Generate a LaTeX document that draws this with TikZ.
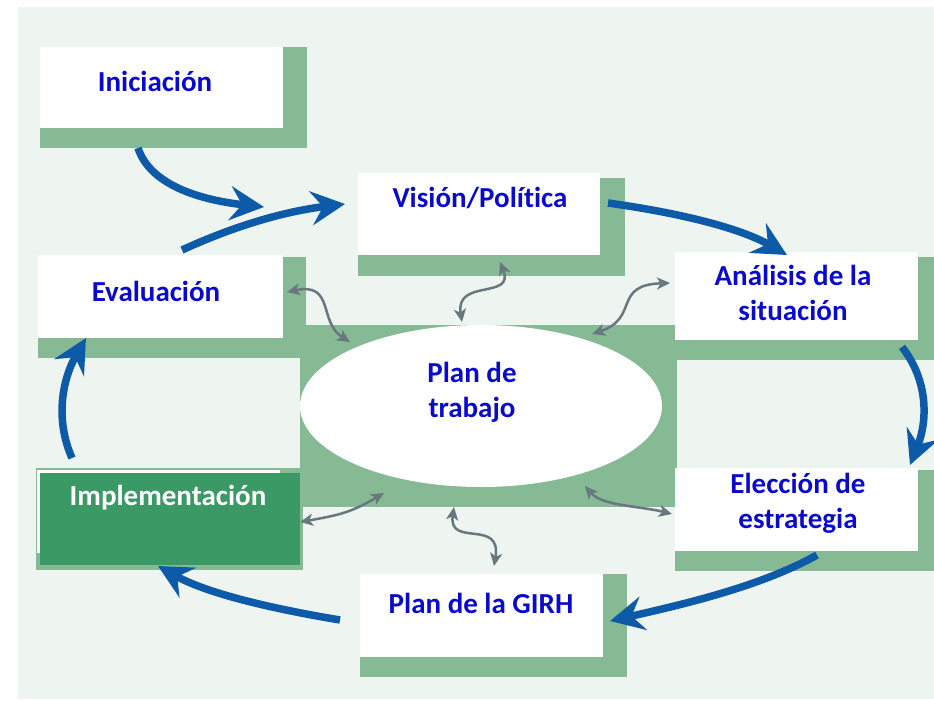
\documentclass[tikz,border=0pt]{standalone}
\usepackage{fontspec}
\setmainfont{Carlito}[Ligatures=NoCommon]
\usetikzlibrary{arrows.meta,shapes.geometric}
\definecolor{bgc}{HTML}{EEF4F0}
\definecolor{lgreen}{HTML}{86BA94}
\definecolor{dgreen}{HTML}{3B9966}
\definecolor{tblue}{HTML}{0A0ACD}
\definecolor{ablue}{HTML}{0D5BA8}
\definecolor{agrey}{HTML}{68787E}
\tikzset{
  shadowbox/.style={fill=lgreen},
  whitebox/.style={fill=white, draw=none, inner sep=0pt, anchor=north west},
  lbl/.style={text=tblue, font=\fontsize{29}{35}\selectfont\bfseries, align=center, inner sep=0pt},
  flow/.style={draw=ablue, line width=7.5pt, -{Stealth[length=34pt,width=34pt,inset=12pt]}},
  link/.style={draw=agrey, line width=2.5pt, {Stealth[length=13pt,width=12pt,inset=3.5pt]}-{Stealth[length=13pt,width=12pt,inset=3.5pt]}}
}
\begin{document}
\begin{tikzpicture}[x=1pt,y=-1pt]
\useasboundingbox (0,0) rectangle (934,701);
\fill[white] (0,0) rectangle (934,701);
\fill[bgc] (18,7) rectangle (934,699);

% shadows
\fill[shadowbox] (40,47) rectangle (307,148);
\fill[shadowbox] (358,178) rectangle (625,276);
\fill[shadowbox] (38,257) rectangle (306,358);
\fill[shadowbox] (675,257) rectangle (934,360);
\fill[shadowbox] (300,325) rectangle (677,507);
\fill[shadowbox] (675,470) rectangle (934,571);
\fill[shadowbox] (36,468) rectangle (303,570);
\fill[shadowbox] (360,574) rectangle (627,677);

% boxes
\node[whitebox, minimum width=243pt, minimum height=81pt] (ini) at (40,47) {};
\node[whitebox, minimum width=242pt, minimum height=82pt] (vis) at (358,173) {};
\node[whitebox, minimum width=245pt, minimum height=83pt] (eva) at (38,255) {};
\node[whitebox, minimum width=243pt, minimum height=88pt] (ana) at (675,252) {};
\node[whitebox, minimum width=243pt, minimum height=83pt] (ele) at (675,468) {};
\node[whitebox, minimum width=243pt, minimum height=83pt] (gir) at (360,574) {};
\node[whitebox, minimum width=243pt, minimum height=83pt] (impw) at (37,470) {};
\node[fill=dgreen, inner sep=0pt, anchor=north west, minimum width=260pt, minimum height=92pt] (imp) at (40,473) {};
\node[fill=white, ellipse, inner sep=0pt, minimum width=362pt, minimum height=162pt] (pdt) at (481,406) {};

% labels
\node[lbl] (tini) at (155,81) {Iniciación};
\node[lbl] (tvis) at (480,198) {Visión/Política};
\node[lbl] (teva) at (156,291) {Evaluación};
\node[lbl] (tana) at (793,293) {Análisis de la\\situación};
\node[lbl] (tele) at (798,503) {Elección de\\estrategia};
\node[lbl] (tgir) at (481,603) {Plan de la GIRH};
\node[lbl, text=white] (timp) at (168,498) {Implementación};
\node[lbl] (tpdt) at (472,392) {Plan de\\trabajo};

% flow arrows
\coordinate (a1s) at (138,148); \coordinate (a1e) at (264,207);
\coordinate (a2s) at (182,250); \coordinate (a2e) at (345,204);
\coordinate (a3s) at (608,203); \coordinate (a3e) at (787,255);
\coordinate (a4s) at (902,347); \coordinate (a4e) at (910,465);
\coordinate (a5s) at (817,555); \coordinate (a5e) at (610,621);
\coordinate (a6s) at (340,620); \coordinate (a6e) at (158,566);
\coordinate (a7s) at (72,458);  \coordinate (a7e) at (86,338);
\draw[flow] (a1s) .. controls (150,185) and (200,200) .. (a1e);
\draw[flow] (a2s) .. controls (230,228) and (280,212) .. (a2e);
\draw[flow] (a3s) .. controls (680,213) and (740,228) .. (a3e);
\draw[flow] (a4s) .. controls (928,380) and (928,420) .. (a4e);
\draw[flow] (a5s) .. controls (760,587) and (680,605) .. (a5e);
\draw[flow] (a6s) .. controls (280,610) and (210,595) .. (a6e);
\draw[flow] (a7s) .. controls (55,420) and (62,380) .. (a7e);

% links
\coordinate (l1a) at (287,292); \coordinate (l1b) at (350,342);
\coordinate (l2a) at (500,262); \coordinate (l2b) at (462,322);
\coordinate (l3a) at (670,283); \coordinate (l3b) at (592,334);
\coordinate (l4a) at (300,522); \coordinate (l4b) at (384,493);
\coordinate (l5a) at (454,507); \coordinate (l5b) at (494,566);
\coordinate (l6a) at (585,486); \coordinate (l6b) at (672,514);
\draw[link] (l1a) .. controls (335,282) and (318,322) .. (l1b);
\draw[link] (l2a) .. controls (515,300) and (455,278) .. (l2b);
\draw[link] (l3b) .. controls (640,318) and (612,285) .. (l3a);
\draw[link] (l4a) .. controls (340,515) and (352,512) .. (l4b);
\draw[link] (l5a) .. controls (448,548) and (502,518) .. (l5b);
\draw[link] (l6a) .. controls (602,506) and (640,506) .. (l6b);
\end{tikzpicture}
\end{document}
